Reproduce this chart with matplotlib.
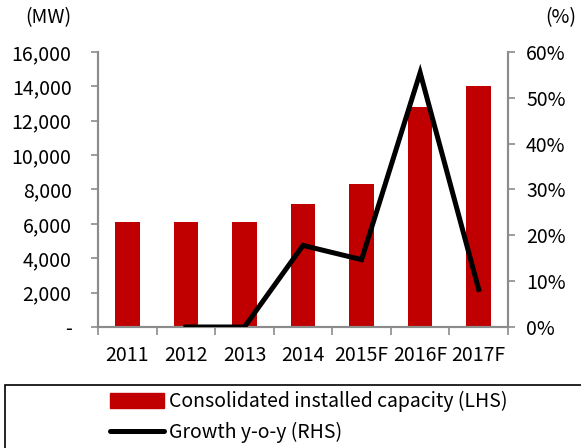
import matplotlib.pyplot as plt
import matplotlib
from matplotlib.patches import Rectangle
from matplotlib.ticker import FuncFormatter

matplotlib.rcParams['font.family'] = ['Noto Sans CJK KR', 'DejaVu Sans']
matplotlib.rcParams['font.size'] = 14

years = ["2011", "2012", "2013", "2014", "2015F", "2016F", "2017F"]
capacity = [6100, 6100, 6100, 7130, 8320, 12800, 14000]
growth_years = ["2012", "2013", "2014", "2015F", "2016F", "2017F"]
growth = [0.0, 0.0, 17.8, 14.7, 55.5, 8.2]

red = "#C00000"
grey = "#8C8C8C"

fig = plt.figure(figsize=(5.81, 4.48), dpi=100)
ax = fig.add_axes([98/581, 1 - 327/448, 410/581, 275/448])
ax2 = ax.twinx()

x = list(range(len(years)))
ax.bar(x, capacity, width=0.42, color=red, zorder=2)
gx = [years.index(y) for y in growth_years]
ax2.plot(gx, growth, color="black", lw=3.6, solid_joinstyle="miter", zorder=3)

ax.set_xlim(-0.5, len(years) - 0.5)
ax.set_ylim(0, 16000)
ax2.set_ylim(0, 60)
ax.set_yticks(range(0, 16001, 2000))
ax.yaxis.set_major_formatter(FuncFormatter(lambda v, p: "-" if v == 0 else f"{int(v):,}"))
ax2.set_yticks(range(0, 61, 10))
ax2.yaxis.set_major_formatter(FuncFormatter(lambda v, p: f"{int(v)}%"))

ax.set_xticks(x)
ax.set_xticklabels(years)
ax.set_xticks([i - 0.5 for i in range(len(years) + 1)], minor=True)
ax.tick_params(axis="x", which="major", length=0, pad=13)
ax.tick_params(axis="x", which="minor", length=6, color=grey, width=1.2)
ax.tick_params(axis="y", length=5, color=grey, width=1.2, pad=14)
ax2.tick_params(axis="y", length=5, color=grey, width=1.2, pad=8)

for a in (ax, ax2):
    a.spines["top"].set_visible(False)
    for s in ("left", "right", "bottom"):
        a.spines[s].set_color(grey)
        a.spines[s].set_linewidth(1.5)

fig.text(48/581, 1 - 18/448, "(MW)", ha="center", va="center")
fig.text(561/581, 1 - 18/448, "(%)", ha="center", va="center")

# legend box clipped at figure edges
fig.patches.append(Rectangle((5/581, -0.05), 1.0, (448 - 385)/448 + 0.05,
                             transform=fig.transFigure, fill=False,
                             edgecolor="black", lw=1.2))
h1 = Rectangle((0, 0), 1, 1, color=red)
h2 = plt.Line2D([0], [0], color="black", lw=3.6, solid_capstyle="round")
fig.legend([h1, h2], ["Consolidated installed capacity (LHS)", "Growth y-o-y (RHS)"],
           loc="upper left", bbox_to_anchor=(110/581, 1 - 391/448), frameon=False,
           handlelength=2.8, handleheight=0.8, handletextpad=0.25, labelspacing=0.5,
           borderaxespad=0, borderpad=0)

fig.savefig("out.png", dpi=100)
